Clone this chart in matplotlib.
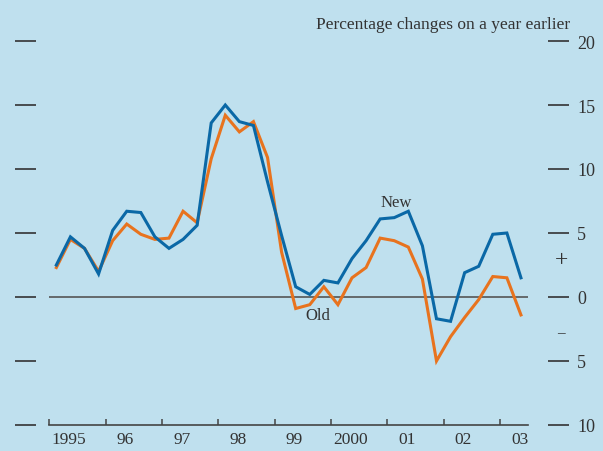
import numpy as np
import matplotlib.pyplot as plt
from matplotlib.ticker import FixedLocator, NullFormatter

# quarterly series, 1995 Q1 to 2003 Q2
new_series = [2.5, 4.7, 3.8, 1.8, 5.2, 6.7, 6.6, 4.7, 3.8,
              4.5, 5.6, 13.6, 15.0, 13.7, 13.4, 9.0, 4.8, 0.8,
              0.2, 1.3, 1.1, 3.0, 4.4, 6.1, 6.2, 6.7, 4.0,
              -1.7, -1.9, 1.9, 2.4, 4.9, 5.0, 1.5]
old_series = [2.3, 4.5, 3.8, 2.0, 4.4, 5.7, 4.9, 4.5, 4.6,
              6.7, 5.8, 10.8, 14.2, 12.9, 13.7, 10.9, 3.5, -0.9,
              -0.6, 0.8, -0.6, 1.5, 2.3, 4.6, 4.4, 3.9, 1.4,
              -5.0, -3.1, -1.6, -0.2, 1.6, 1.5, -1.4]
year_labels = ['1995', '96', '97', '98', '99', '2000', '01', '02', '03']
y_levels = [-10, -5, 0, 5, 10, 15, 20]

bg = '#bfe0ee'
blue = '#0a68a6'
orange = '#e8731e'
txt = '#333333'
serif = 'Liberation Serif'

fig = plt.figure(figsize=(6.03, 4.52), dpi=100, facecolor=bg)

# outer axes that only carries the dash ticks on both sides
ax2 = fig.add_axes([15 / 603, 26 / 452, 554 / 603, 384 / 452])
ax2.set_ylim(-10, 20)
ax2.set_xlim(0, 1)
ax2.patch.set_visible(False)
for s in ax2.spines.values():
    s.set_visible(False)
ax2.set_xticks([])
ax2.set_yticks(y_levels)
ax2.set_yticklabels([str(abs(v)) for v in y_levels])
ax2.tick_params(axis='y', left=True, right=True, labelleft=False, labelright=True,
                direction='in', length=15, width=1.2, color=txt, pad=6,
                labelsize=13, labelcolor=txt)
for lab in ax2.get_yticklabels():
    lab.set_fontfamily(serif)

ax = fig.add_axes([49.3 / 603, 26 / 452, 478.7 / 603, 384 / 452])
ax.patch.set_visible(False)
n = len(new_series)
x = 1995 + (np.arange(n) + 0.5) / 4
ax.plot(x, old_series, color=orange, lw=2.2, solid_joinstyle='miter', zorder=3)
ax.plot(x, new_series, color=blue, lw=2.2, solid_joinstyle='miter', zorder=4)
ax.axhline(0, color='#555555', lw=1.2, zorder=2)

ax.set_xlim(1995, 1995 + n / 4)
ax.set_ylim(-10, 20)
for side in ['top', 'left', 'right']:
    ax.spines[side].set_visible(False)
ax.spines['bottom'].set_color('#444444')
ax.spines['bottom'].set_linewidth(1.2)
ax.set_yticks([])

years = np.arange(1995, 1995 + len(year_labels))
ax.xaxis.set_major_locator(FixedLocator(years))
ax.xaxis.set_major_formatter(NullFormatter())
ax.xaxis.set_minor_locator(FixedLocator(years + 0.35))
ax.set_xticklabels(year_labels, minor=True)
ax.tick_params(axis='x', which='major', direction='in', length=4, width=1.1, color='#444444')
ax.tick_params(axis='x', which='minor', length=0, pad=4, labelsize=12.5, labelcolor=txt)
for lab in ax.get_xticklabels(minor=True):
    lab.set_fontfamily(serif)

ax.text(x[25] - 0.21, 7.1, 'New', ha='center', va='baseline', fontsize=12,
        family=serif, color=txt)
ax.text(x[18] + 0.14, -0.8, 'Old', ha='center', va='top', fontsize=12,
        family=serif, color=txt)
ax2.text(0.986, 2.9, '+', ha='center', va='center', fontsize=17, family=serif, color=txt)
ax2.text(0.986, -2.8, '\u2013', ha='center', va='center', fontsize=11, family=serif, color=txt)

fig.text(570 / 603, 1 - 25 / 452, 'Percentage changes on a year earlier', ha='right',
         va='center', fontsize=12.5, family=serif, color=txt)

fig.savefig('out.png', dpi=100, facecolor=bg)
